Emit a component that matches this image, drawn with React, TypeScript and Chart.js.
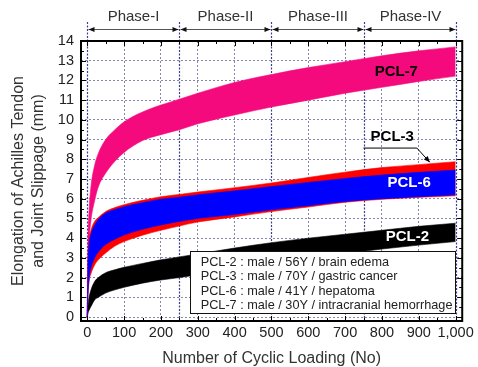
import React, { useEffect, useRef } from 'react';
import { Chart, registerables } from 'chart.js';

Chart.register(...registerables);

// ---- data ----
const X_POINTS = [0, 2, 5, 10, 20, 30, 50, 75, 100, 150, 200, 250, 300, 400, 500, 600, 700, 800, 900, 1000];

const PCL7_UPPER = [0, 3.8, 5.4, 6.6, 7.7, 8.3, 9.0, 9.5, 9.9, 10.4, 10.75, 11.05, 11.35, 11.9, 12.3, 12.65, 12.95, 13.25, 13.5, 13.7];
const PCL7_LOWER = [0, 2.2, 3.8, 4.9, 5.9, 6.6, 7.3, 7.9, 8.35, 8.95, 9.25, 9.5, 9.8, 10.25, 10.65, 11.0, 11.35, 11.65, 11.95, 12.22];

const PCL3_UPPER = [0, 2.8, 3.9, 4.4, 4.85, 5.05, 5.35, 5.55, 5.7, 5.92, 6.1, 6.22, 6.34, 6.56, 6.8, 7.08, 7.35, 7.58, 7.73, 7.88];
const PCL3_LOWER = [0, 1.1, 1.8, 2.2, 2.64, 2.9, 3.25, 3.6, 3.83, 4.15, 4.4, 4.62, 4.82, 5.08, 5.35, 5.58, 5.82, 5.97, 6.07, 6.15];

const PCL6_UPPER = [0, 2.6, 3.7, 4.2, 4.65, 4.95, 5.27, 5.45, 5.6, 5.8, 5.98, 6.08, 6.2, 6.4, 6.62, 6.83, 7.03, 7.2, 7.34, 7.46];
const PCL6_LOWER = [0, 1.2, 2.0, 2.5, 3.0, 3.3, 3.68, 3.95, 4.16, 4.45, 4.67, 4.85, 5.0, 5.2, 5.44, 5.65, 5.86, 6.0, 6.1, 6.2];

const PCL2_UPPER = [0, 0.6, 1.0, 1.37, 1.8, 2.0, 2.25, 2.4, 2.52, 2.72, 2.9, 3.05, 3.2, 3.5, 3.77, 4.0, 4.2, 4.4, 4.6, 4.76];
const PCL2_LOWER = [0, 0.2, 0.35, 0.53, 0.87, 1.0, 1.22, 1.38, 1.51, 1.72, 1.88, 2.0, 2.15, 2.45, 2.72, 2.98, 3.22, 3.45, 3.65, 3.83];

const X_TICK_VALUES = [0, 100, 200, 300, 400, 500, 600, 700, 800, 900, 1000];
const X_TICK_LABELS = ['0', '100', '200', '300', '400', '500', '600', '700', '800', '900', '1,000'];
const Y_TICK_VALUES = [0, 1, 2, 3, 4, 5, 6, 7, 8, 9, 10, 11, 12, 13, 14];
const Y_TICK_LABELS = ['0', '1', '2', '3', '4', '5', '6', '7', '8', '9', '10', '11', '12', '13', '14'];

const PHASE_BOUNDS = [0, 250, 500, 750, 1000];
const PHASE_LABELS = ['Phase-I', 'Phase-II', 'Phase-III', 'Phase-IV'];

const LEGEND_LINES = [
  'PCL-2 : male / 56Y / brain edema',
  'PCL-3 : male / 70Y / gastric cancer',
  'PCL-6 : male / 41Y / hepatoma',
  'PCL-7 : male / 30Y / intracranial hemorrhage',
];

const X_TITLE = 'Number of Cyclic Loading (No)';
const Y_TITLE = ['Elongation of Achilles Tendon', 'and Joint Slippage (mm)'];

// ---- styles ----
const FONT = "'Liberation Sans', Arial, Helvetica, sans-serif";
const PINK = '#F50A7D';
const RED = '#FF0000';
const BLUE = '#0000FF';
const BLACK = '#000000';
const GRID = '#8585b0';
const PHASE_LINE = '#3d3d90';

const X_MINOR: number[] = [];
for (let v = 0; v <= 1000; v += 50) X_MINOR.push(v);
const Y_MINOR: number[] = [];
for (let v = 0; v <= 14; v += 0.5) Y_MINOR.push(v);

function band(label: string, lower: number[], upper: number[], color: string) {
  return [
    {
      label: label + ' lower',
      data: X_POINTS.map((x, i) => ({ x, y: lower[i] })),
      borderColor: color,
      backgroundColor: color,
      borderWidth: 0.6,
      pointRadius: 0,
      fill: false,
      cubicInterpolationMode: 'monotone',
    },
    {
      label,
      data: X_POINTS.map((x, i) => ({ x, y: upper[i] })),
      borderColor: color,
      backgroundColor: color,
      borderWidth: 0.6,
      pointRadius: 0,
      fill: '-1',
      cubicInterpolationMode: 'monotone',
    },
  ];
}

function arrowHead(ctx: CanvasRenderingContext2D, tx: number, ty: number, angle: number, len: number, half: number) {
  ctx.save();
  ctx.translate(tx, ty);
  ctx.rotate(angle);
  ctx.beginPath();
  ctx.moveTo(0, 0);
  ctx.lineTo(-len, -half);
  ctx.lineTo(-len, half);
  ctx.closePath();
  ctx.fill();
  ctx.restore();
}

const overlay = {
  id: 'overlay',
  beforeDatasetsDraw(chart: any) {
    const { ctx, chartArea: a, scales } = chart;
    const x = scales.x;
    ctx.save();
    ctx.strokeStyle = PHASE_LINE;
    ctx.lineWidth = 1.2;
    ctx.setLineDash([2, 1.5]);
    PHASE_BOUNDS.forEach((v) => {
      const px = Math.round(x.getPixelForValue(v)) + 0.5;
      ctx.beginPath();
      ctx.moveTo(px, 22);
      ctx.lineTo(px, a.bottom);
      ctx.stroke();
    });
    ctx.restore();
  },
  afterDatasetsDraw(chart: any) {
    const { ctx, chartArea: a, scales } = chart;
    const x = scales.x;
    const y = scales.y;
    ctx.save();

    // inward tick marks
    ctx.strokeStyle = '#000';
    ctx.lineWidth = 1;
    ctx.beginPath();
    Y_MINOR.forEach((v) => {
      const py = Math.round(y.getPixelForValue(v)) + 0.5;
      const len = v % 1 === 0 ? 5 : 3;
      ctx.moveTo(a.left, py);
      ctx.lineTo(a.left + len, py);
      ctx.moveTo(a.right, py);
      ctx.lineTo(a.right - len, py);
    });
    X_MINOR.forEach((v) => {
      const px = Math.round(x.getPixelForValue(v)) + 0.5;
      const len = v % 100 === 0 ? 5 : 3;
      ctx.moveTo(px, a.top);
      ctx.lineTo(px, a.top + len);
      ctx.moveTo(px, a.bottom);
      ctx.lineTo(px, a.bottom - len);
    });
    ctx.stroke();

    // frame
    ctx.lineWidth = 2;
    ctx.strokeRect(a.left, a.top, a.right - a.left, a.bottom - a.top);

    // phase arrows + labels
    const ay = 29.5;
    ctx.lineWidth = 1;
    ctx.strokeStyle = '#555';
    ctx.fillStyle = '#111';
    for (let i = 0; i < PHASE_LABELS.length; i++) {
      const x0 = Math.round(x.getPixelForValue(PHASE_BOUNDS[i])) + 1.5;
      const x1 = Math.round(x.getPixelForValue(PHASE_BOUNDS[i + 1])) - 0.5;
      ctx.beginPath();
      ctx.moveTo(x0, ay);
      ctx.lineTo(x1, ay);
      ctx.stroke();
      arrowHead(ctx, x0, ay, Math.PI, 6, 2.6);
      arrowHead(ctx, x1, ay, 0, 6, 2.6);
      ctx.fillStyle = '#333';
      ctx.font = `15px ${FONT}`;
      ctx.textAlign = 'center';
      ctx.textBaseline = 'middle';
      ctx.fillText(PHASE_LABELS[i], (x0 + x1) / 2, 17);
      ctx.fillStyle = '#111';
    }

    // series labels
    ctx.font = `bold 15px ${FONT}`;
    ctx.textAlign = 'center';
    ctx.textBaseline = 'middle';
    ctx.fillStyle = '#000';
    ctx.fillText('PCL-7', x.getPixelForValue(839), y.getPixelForValue(12.43));
    ctx.fillText('PCL-3', x.getPixelForValue(828), y.getPixelForValue(9.13));
    ctx.fillStyle = '#fff';
    ctx.fillText('PCL-6', x.getPixelForValue(874), y.getPixelForValue(6.79));
    ctx.fillText('PCL-2', x.getPixelForValue(869), y.getPixelForValue(4.08));

    // PCL-3 pointer
    const p1x = x.getPixelForValue(750), p1y = y.getPixelForValue(8.57);
    const p2x = x.getPixelForValue(895);
    const tx = x.getPixelForValue(930), ty = y.getPixelForValue(7.85);
    ctx.strokeStyle = '#000';
    ctx.fillStyle = '#000';
    ctx.lineWidth = 1;
    ctx.beginPath();
    ctx.moveTo(p1x, p1y);
    ctx.lineTo(p2x, p1y);
    ctx.lineTo(tx, ty);
    ctx.stroke();
    arrowHead(ctx, tx, ty, Math.atan2(ty - p1y, tx - p2x), 6, 2.6);

    // legend box
    const lx0 = Math.round(x.getPixelForValue(278)) + 0.5;
    const lx1 = Math.round(x.getPixelForValue(998)) + 0.5;
    const ly0 = Math.round(y.getPixelForValue(3.35)) + 0.5;
    const ly1 = Math.round(y.getPixelForValue(0.2)) + 0.5;
    ctx.fillStyle = '#fff';
    ctx.fillRect(lx0, ly0, lx1 - lx0, ly1 - ly0);
    ctx.strokeStyle = '#111';
    ctx.lineWidth = 1;
    ctx.strokeRect(lx0, ly0, lx1 - lx0, ly1 - ly0);
    ctx.fillStyle = '#222';
    ctx.font = `12.7px ${FONT}`;
    ctx.textAlign = 'left';
    ctx.textBaseline = 'middle';
    const tx0 = x.getPixelForValue(308);
    LEGEND_LINES.forEach((t, i) => {
      ctx.fillText(t, tx0, ly0 + 10.5 + i * 14.6);
    });

    ctx.restore();
  },
};

export default function App() {
  const ref = useRef<HTMLCanvasElement | null>(null);

  useEffect(() => {
    if (!ref.current) return;
    const chart = new Chart(ref.current, {
      type: 'line',
      data: {
        datasets: [
          ...band('PCL-6', PCL6_LOWER, PCL6_UPPER, BLUE),
          ...band('PCL-3', PCL3_LOWER, PCL3_UPPER, RED),
          ...band('PCL-7', PCL7_LOWER, PCL7_UPPER, PINK),
          ...band('PCL-2', PCL2_LOWER, PCL2_UPPER, BLACK),
        ] as any,
      },
      options: {
        animation: false,
        responsive: true,
        maintainAspectRatio: false,
        layout: { padding: { left: 0, right: 15, top: 41, bottom: 0 } },
        plugins: {
          legend: { display: false },
          tooltip: { enabled: false },
        },
        scales: {
          x: {
            type: 'linear',
            min: -17,
            max: 1018,
            afterBuildTicks: (s: any) => {
              s.ticks = X_MINOR.map((v) => ({ value: v }));
            },
            afterFit: (s: any) => {
              s.height = 46;
            },
            ticks: {
              autoSkip: false,
              maxRotation: 0,
              padding: 4,
              color: '#222',
              font: { family: FONT, size: 14.5, lineHeight: 1.1 },
              callback: (v: any) => {
                const i = X_TICK_VALUES.indexOf(Number(v));
                return i >= 0 ? X_TICK_LABELS[i] : '';
              },
            },
            grid: {
              drawTicks: false,
              lineWidth: 1,
              color: (c: any) => {
                const v = c.tick ? c.tick.value : NaN;
                return v % 100 === 0 && v % 250 !== 0 ? GRID : 'transparent';
              },
            },
            border: { display: false, dash: [2, 2] },
            title: {
              display: true,
              text: X_TITLE,
              color: '#333',
              font: { family: FONT, size: 16, lineHeight: 1 },
              padding: { top: 0, bottom: 0 },
            },
          },
          y: {
            type: 'linear',
            min: -0.2,
            max: 14,
            afterBuildTicks: (s: any) => {
              s.ticks = Y_MINOR.map((v) => ({ value: v }));
            },
            afterFit: (s: any) => {
              s.width = 81;
            },
            ticks: {
              autoSkip: false,
              padding: 7,
              color: '#222',
              font: { family: FONT, size: 14.5, lineHeight: 1.1 },
              callback: (v: any) => {
                const i = Y_TICK_VALUES.indexOf(Number(v));
                return i >= 0 ? Y_TICK_LABELS[i] : '';
              },
            },
            grid: {
              drawTicks: false,
              lineWidth: 1,
              color: (c: any) => {
                const v = c.tick ? c.tick.value : NaN;
                return v % 1 === 0 && v < 14 ? GRID : 'transparent';
              },
            },
            border: { display: false, dash: [2, 2] },
            title: {
              display: true,
              text: Y_TITLE,
              color: '#333',
              font: { family: FONT, size: 16, lineHeight: 1.22 },
              padding: { top: 9, bottom: 0 },
            },
          },
        },
      },
      plugins: [overlay],
    } as any);
    return () => chart.destroy();
  }, []);

  return (
    <div style={{ position: 'fixed', left: 0, top: 0, width: 478, height: 367, background: '#fff' }}>
      <canvas ref={ref} />
    </div>
  );
}
